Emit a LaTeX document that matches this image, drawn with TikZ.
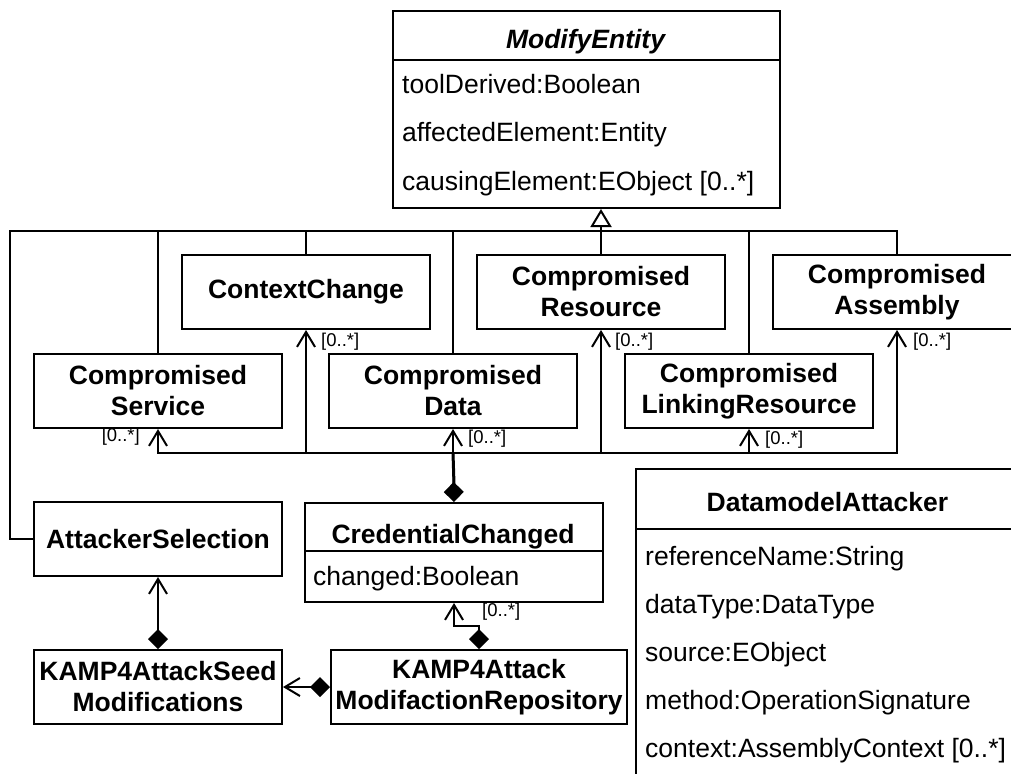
\documentclass[tikz,border=0pt]{standalone}
\usepackage{fontspec}
\setmainfont{Liberation Sans}
\usetikzlibrary{arrows.meta}
\tikzset{
  conn/.style={line width=2pt},
  box/.style={draw, line width=2pt, minimum width=248pt, minimum height=74pt, inner sep=0pt, align=center, font=\bfseries\fontsize{26.5}{31}\selectfont},
  frame/.style={draw, line width=2pt, inner sep=0pt, anchor=north west},
  attr/.style={anchor=base west, inner sep=0pt, font=\fontsize{26.5}{31}\selectfont},
  ttl/.style={anchor=base, inner sep=0pt, font=\bfseries\fontsize{26.5}{31}\selectfont},
  mult/.style={inner sep=0pt, font=\fontsize{18.5}{20}\selectfont},
  nav/.style={-{Straight Barb[length=15pt,width=18pt]}},
  comp/.style={{Diamond[length=20pt,width=20pt]}-{Straight Barb[length=15pt,width=18pt]}},
}
\begin{document}
\begin{tikzpicture}[x=1pt,y=-1pt]
\useasboundingbox (0,0) rectangle (1011,773);
% ModifyEntity
\node[frame, minimum width=387pt, minimum height=197pt] (me) at (392,10) {};
\draw[conn] ([yshift=-50pt]me.north west) -- ([yshift=-50pt]me.north east);
\node[ttl, font=\bfseries\itshape\fontsize{26.5}{31}\selectfont] (meT) at (585.5,49) {ModifyEntity};
\node[attr] (meA1) at (402,94) {toolDerived:Boolean};
\node[attr] (meA2) at (402,142) {affectedElement:Entity};
\node[attr] (meA3) at (402,190) {causingElement:EObject [0..*]};
% subclasses
\node[box] (cxt) at (306,292) {ContextChange};
\node[box] (res) at (601,292) {Compromised\\Resource};
\node[box] (asm) at (897,292) {Compromised\\Assembly};
\node[box] (svc) at (158,391) {Compromised\\Service};
\node[box] (data) at (453,391) {Compromised\\Data};
\node[box] (lres) at (749,391) {Compromised\\LinkingResource};
\node[box] (att) at (158,539) {AttackerSelection};
\node[box] (seed) at (158,687) {KAMP4AttackSeed\\Modifications};
\node[box, minimum width=296pt] (kar) at (479,687) {KAMP4Attack\\ModifactionRepository};
% CredentialChanged
\node[frame, minimum width=298pt, minimum height=99pt] (cc) at (304,502) {};
\draw[conn] ([yshift=-49pt]cc.north west) -- ([yshift=-49pt]cc.north east);
\node[ttl] (ccT) at (453,543) {CredentialChanged};
\node[attr] (ccA) at (313,585) {changed:Boolean};
% DatamodelAttacker
\node[frame, minimum width=385pt, minimum height=330pt] (da) at (635,468) {};
\draw[conn] ([yshift=-61pt]da.north west) -- ([yshift=-61pt]da.north east);
\node[ttl] (daT) at (827.5,511) {DatamodelAttacker};
\node[attr] (daA1) at (645,565) {referenceName:String};
\node[attr] (daA2) at (645,613) {dataType:DataType};
\node[attr] (daA3) at (645,661) {source:EObject};
\node[attr] (daA4) at (645,709) {method:OperationSignature};
\node[attr] (daA5) at (645,757) {context:AssemblyContext [0..*]};
% generalization tree
\coordinate (gen) at (601,231);
\coordinate (genL) at (10,231);
\draw[conn] (att.west) -| (genL) -- (gen);
\draw[conn] (svc.north) |- (gen);
\draw[conn] (cxt.north) |- (gen);
\draw[conn] (data.north) |- (gen);
\draw[conn] (res.north) -- (gen);
\draw[conn] (lres.north) |- (gen);
\draw[conn] (asm.north) |- (gen);
\draw[conn, -{Triangle[fill=white,length=18pt,width=21pt]}] (gen) -- (gen |- me.south);
% composition from CredentialChanged
\coordinate (hub) at (453,453);
\draw[conn, {Diamond[length=20pt,width=20pt]}-] (cc.north) -- (hub);
\draw[line width=3pt] ([yshift=18pt]cc.north) -- (hub);
\draw[conn, nav] (hub) -| (svc.south);
\draw[conn, nav] (hub) -| (cxt.south);
\draw[conn, nav] (hub) -- (data.south);
\draw[conn, nav] (hub) -| (res.south);
\draw[conn, nav] (hub) -| (lres.south);
\draw[conn, nav] (hub) -| (asm.south);
% other associations
\draw[conn, comp] (kar.north) -- ++(0,-23) -| (cc.south);
\draw[conn, comp] (kar.west) -- (seed.east);
\draw[conn, comp] (seed.north) -- (att.south);
% multiplicities
\node[mult, anchor=east] (m1) at (140,437) {[0..*]};
\node[mult, anchor=west] (m2) at (321,342) {[0..*]};
\node[mult, anchor=west] (m3) at (468,439) {[0..*]};
\node[mult, anchor=west] (m4) at (615,342) {[0..*]};
\node[mult, anchor=west] (m5) at (765,440) {[0..*]};
\node[mult, anchor=west] (m6) at (913,342) {[0..*]};
\node[mult, anchor=west] (m7) at (482,612) {[0..*]};
\end{tikzpicture}
\end{document}
